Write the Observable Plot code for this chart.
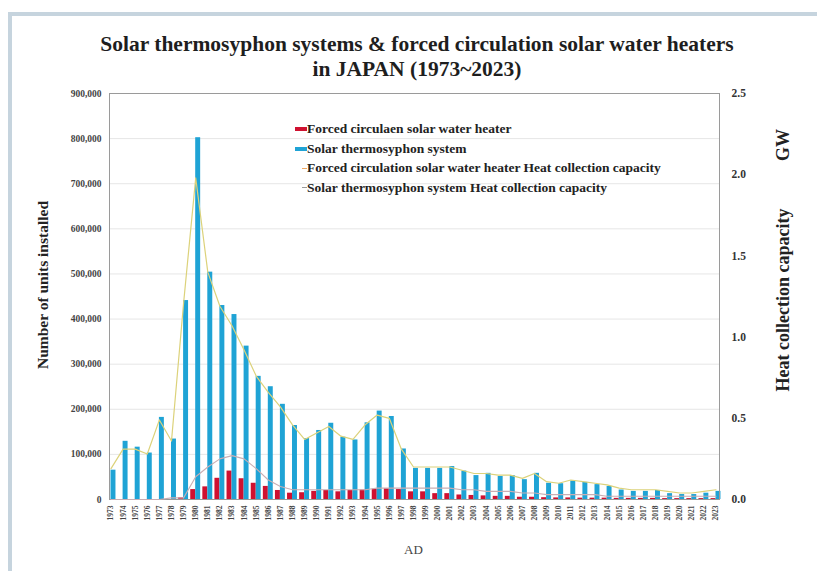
<!DOCTYPE html>
<html><head><meta charset="utf-8">
<script src="https://cdn.jsdelivr.net/npm/d3@7"></script>
<script src="https://cdn.jsdelivr.net/npm/@observablehq/plot@0.6"></script>
<style>
body{margin:0;background:#fff;}
#wrap{position:relative;width:817px;height:571px;overflow:hidden;background:#fff;font-family:"Liberation Serif","Times New Roman",serif;color:#222;}
#wrap svg{position:absolute;left:0;top:0;}
.abs{position:absolute;white-space:nowrap;}
#frameTop{left:8px;top:12px;width:809px;height:4px;background:#c6d4de;}
#frameLeft{left:8px;top:12px;width:4px;height:559px;background:#c6d4de;}
.title{left:0;width:834px;text-align:center;font-weight:bold;font-size:21.5px;line-height:25px;color:#1e1e1e;}
.vt{width:300px;text-align:center;transform:rotate(-90deg);font-weight:bold;line-height:20px;color:#222;}
#legend{left:295px;top:119px;font-weight:bold;font-size:13.5px;color:#222;}
.lrow{height:19.7px;line-height:19.7px;display:flex;align-items:center;}
.sw{display:inline-block;width:12px;height:4px;margin-right:0px;}
.ln{display:inline-block;width:5px;height:1px;margin-left:7px;margin-right:0px;}
</style></head><body>
<div id="wrap">
  <div id="frameTop" class="abs"></div>
  <div id="frameLeft" class="abs"></div>
</div>
<script>
// ---- data ----
const years = [1973,1974,1975,1976,1977,1978,1979,1980,1981,1982,1983,1984,1985,1986,1987,1988,1989,1990,
  1991,1992,1993,1994,1995,1996,1997,1998,1999,2000,2001,2002,2003,2004,2005,2006,2007,2008,2009,2010,
  2011,2012,2013,2014,2015,2016,2017,2018,2019,2020,2021,2022,2023];
// Solar thermosyphon system (units installed)
const thermosyphonUnits = [65000,129000,116000,103000,182000,134000,441000,802000,504000,430000,410000,340000,273000,250000,211000,164000,135000,153000,
  169000,138000,132000,170000,196000,184000,112000,69000,69000,69000,73000,63000,53000,58000,51000,53000,44000,58000,36000,35000,
  41000,38000,33000,29000,21000,18000,18000,20000,13000,11000,11000,14000,18000];
// Forced circulation solar water heater (units installed)
const forcedUnits = [0,0,0,0,0,0,4000,22000,28000,47000,63000,46000,36000,29000,20000,14000,15000,18000,
  20000,17000,20000,21000,23000,24000,22000,17000,17000,13000,13000,10000,9000,8000,7000,7000,5000,5000,4000,3500,
  3500,3000,3000,3000,2500,2500,2500,2500,2000,2000,2000,2000,2000];
// Heat collection capacity line drawn in orange/yellow (GW)
const capacityOrange = [0.19,0.31,0.31,0.28,0.49,0.36,1.21,1.98,1.40,1.19,1.07,0.92,0.76,0.66,0.57,0.46,0.37,0.41,
  0.45,0.39,0.37,0.46,0.52,0.50,0.31,0.20,0.20,0.20,0.20,0.18,0.16,0.16,0.15,0.15,0.13,0.16,0.11,0.10,
  0.12,0.11,0.10,0.09,0.07,0.06,0.06,0.06,0.05,0.04,0.04,0.05,0.06];
// Heat collection capacity line drawn in gray (GW)
const capacityGray = [0,0,0,0,0,0.01,0.01,0.14,0.20,0.25,0.27,0.25,0.19,0.12,0.08,0.06,0.06,0.06,
  0.06,0.06,0.06,0.06,0.07,0.07,0.07,0.07,0.07,0.07,0.07,0.06,0.06,0.05,0.05,0.05,0.04,0.04,0.03,0.03,
  0.03,0.03,0.03,0.02,0.02,0.02,0.02,0.02,0.02,0.02,0.02,0.02,0.02];
const unitTicks = [0,100000,200000,300000,400000,500000,600000,700000,800000,900000];
const gwTicks = [0,0.5,1.0,1.5,2.0,2.5];
const legendLabels = ["Forced circulaen solar water heater","Solar thermosyphon system",
  "Forced circulation solar water heater Heat collection capacity","Solar thermosyphon system Heat collection capacity"];
const titleLines = ["Solar thermosyphon systems & forced circulation solar water heaters","in JAPAN (1973~2023)"];

const rows = years.map((y,i)=>({year:y, thermo:thermosyphonUnits[i], forced:forcedUnits[i], capO:capacityOrange[i], capG:capacityGray[i]}));

// ---- layout ----
const W=817,H=571, mT=93, mB=72, mL=109, mR=98;
const step=12.1, c0=110.5, pin=0.18;
const bandR0 = c0 - step*(1-pin)/2, bandR1 = bandR0 + step*(years.length - pin);
const half = step*(1-pin)/2;
const BLUE="#1fa3d5", RED="#cf1130", ORANGE="#dcd27a", GRAY="#c9aeb3";
const font = {fontFamily:"Liberation Serif", background:"transparent", overflow:"visible"};

const p1 = Plot.plot({
  width:W, height:H, marginTop:mT, marginBottom:mB, marginLeft:mL, marginRight:mR,
  style:font,
  x:{type:"band", domain:years, range:[bandR0,bandR1], paddingInner:pin, paddingOuter:0, round:false},
  y:{domain:[0,900000]},
  marks:[
    Plot.gridY(unitTicks,{stroke:"#e6e6e6", strokeOpacity:1}),
    Plot.barY(rows,{x:"year", y:"forced", fill:RED, insetRight:half}),
    Plot.barY(rows,{x:"year", y:"thermo", fill:BLUE, insetLeft:half}),
    Plot.axisY({ticks:unitTicks, tickFormat:d3.format(","), tickSize:0, tickPadding:8, fontSize:9.5, fontWeight:"bold", fill:"#444", label:null}),
    Plot.axisX({tickSize:0, tickRotate:-90, tickPadding:6, tickFormat:d=>String(d), fontSize:7.5, fontWeight:"bold", fill:"#444", label:null}),
    Plot.frame({stroke:"#9a9a9a"})
  ]
});
const p2 = Plot.plot({
  width:W, height:H, marginTop:mT, marginBottom:mB, marginLeft:mL, marginRight:mR,
  style:font,
  x:{type:"point", domain:years, range:[c0, c0+step*(years.length-1)], padding:0, round:false, axis:null},
  y:{domain:[0,2.5]},
  marks:[
    Plot.lineY(rows,{x:"year", y:"capG", stroke:GRAY, strokeWidth:1.1}),
    Plot.lineY(rows,{x:"year", y:"capO", stroke:ORANGE, strokeWidth:1.2}),
    Plot.axisY({anchor:"right", ticks:gwTicks, tickFormat:d3.format(".1f"), tickSize:0, tickPadding:12, fontSize:11.5, fontWeight:"bold", fill:"#333", label:null})
  ]
});
const wrap=document.getElementById("wrap");
wrap.appendChild(p1); wrap.appendChild(p2);

function addDiv(cls, text, css){const d=document.createElement("div"); d.className="abs "+cls; d.textContent=text; Object.assign(d.style, css); wrap.appendChild(d); return d;}
addDiv("title", titleLines[0], {top:"32px"});
addDiv("title", titleLines[1], {top:"57px"});
addDiv("vt", "Number of units installed", {left:(43-150)+"px", top:(285-10)+"px", fontSize:"15.5px"});
addDiv("vt", "Heat collection capacity", {left:(783-150)+"px", top:(300-10)+"px", fontSize:"18px"});
addDiv("vt", "GW", {left:(783-150)+"px", top:(145-10)+"px", fontSize:"18px"});
addDiv("", "AD", {left:"404px", top:"542px", fontSize:"13px", color:"#444"});

const lg=document.createElement("div"); lg.id="legend"; lg.className="abs"; wrap.appendChild(lg);
const swatches=[["sw",RED],["sw",BLUE],["ln","#f0a860"],["ln","#9a9a9a"]];
legendLabels.forEach((t,i)=>{
  const r=document.createElement("div"); r.className="lrow";
  const s=document.createElement("span"); s.className=swatches[i][0]; s.style.background=swatches[i][1];
  const tx=document.createElement("span"); tx.textContent=t;
  r.appendChild(s); r.appendChild(tx); lg.appendChild(r);
});
</script>
</body></html>
